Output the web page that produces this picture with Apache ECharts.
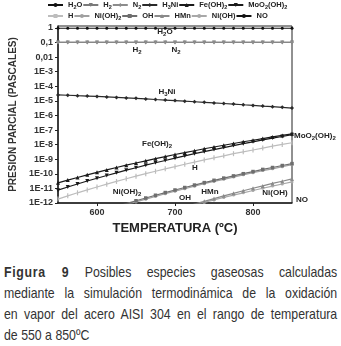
<!DOCTYPE html>
<html>
<head>
<meta charset="utf-8">
<script src="https://cdn.jsdelivr.net/npm/echarts@6/dist/echarts.min.js"></script>
<style>
  html, body { margin: 0; padding: 0; background: #fff; overflow: hidden; }
  #chart { width: 341px; height: 262px; }
  #caption { position: absolute; left: 4px; top: 262px; color: #333;
    font-family: 'Liberation Sans', Arial, sans-serif; font-size: 14.5px; }
  #caption div { width: 392px; height: 21px; line-height: 21px; text-align: justify; text-align-last: justify;
    white-space: nowrap; transform: scale(0.85, 1); transform-origin: left top; }
  #caption div.last { text-align-last: left; }
  #caption b { letter-spacing: 0.8px; }
</style>
</head>
<body>
<div id="chart"></div>
<div id="caption">
  <div><b>Figura 9</b> Posibles especies gaseosas calculadas</div>
  <div>mediante la simulación termodinámica de la oxidación</div>
  <div>en vapor del acero AISI 304 en el rango de temperatura</div>
  <div class="last">de 550 a 850ºC</div>
</div>
<script>
// temperatura (ºC)
const temps = [550, 562.5, 575, 587.5, 600, 612.5, 625, 637.5, 650, 662.5, 675, 687.5, 700,
  712.5, 725, 737.5, 750, 762.5, 775, 787.5, 800, 812.5, 825, 837.5, 850]

// presion parcial (Pa)
const pH2O = [0.95, 0.95, 0.95, 0.95, 0.95, 0.95, 0.95, 0.95, 0.95, 0.95, 0.95, 0.95, 0.95,
  0.95, 0.95, 0.95, 0.95, 0.95, 0.95, 0.95, 0.95, 0.95, 0.95, 0.95, 0.95]
const pH2 = [0.1, 0.1, 0.1, 0.1, 0.1, 0.1, 0.1, 0.1, 0.1, 0.1, 0.1, 0.1, 0.1,
  0.1, 0.1, 0.1, 0.1, 0.1, 0.1, 0.1, 0.1, 0.1, 0.1, 0.1, 0.1]
const pN2 = [0.105, 0.105, 0.105, 0.105, 0.105, 0.105, 0.105, 0.105, 0.105, 0.105, 0.105, 0.105, 0.105,
  0.105, 0.105, 0.105, 0.105, 0.105, 0.105, 0.105, 0.105, 0.105, 0.105, 0.105, 0.105]
const pH3Ni = [2.57e-5, 2.42e-5, 2.26e-5, 2.13e-5, 2.0e-5, 1.86e-5, 1.72e-5, 1.6e-5, 1.48e-5, 1.36e-5, 1.24e-5, 1.14e-5, 1.05e-5,
  9.5e-6, 8.7e-6, 7.9e-6, 7.2e-6, 6.6e-6, 6.0e-6, 5.4e-6, 4.9e-6, 4.4e-6, 4.0e-6, 3.6e-6, 3.2e-6]
const pFeOH2 = [2.4e-11, 3.7e-11, 5.6e-11, 8.5e-11, 1.26e-10, 1.85e-10, 2.7e-10, 3.9e-10, 5.5e-10, 7.8e-10, 1.09e-9, 1.51e-9, 2.1e-9,
  2.8e-9, 3.8e-9, 5.2e-9, 6.9e-9, 9.1e-9, 1.2e-8, 1.57e-8, 2.0e-8, 2.6e-8, 3.4e-8, 4.3e-8, 5.5e-8]
const pMoO2OH2 = [7.6e-12, 1.24e-11, 2.0e-11, 3.2e-11, 5.0e-11, 7.7e-11, 1.17e-10, 1.77e-10, 2.6e-10, 3.9e-10, 5.7e-10, 8.2e-10, 1.18e-9,
  1.68e-9, 2.4e-9, 3.3e-9, 4.6e-9, 6.3e-9, 8.6e-9, 1.16e-8, 1.56e-8, 2.1e-8, 2.8e-8, 3.6e-8, 4.8e-8]
const pH = [1.86e-12, 3.1e-12, 5.0e-12, 7.9e-12, 1.25e-11, 1.95e-11, 3.0e-11, 4.6e-11, 6.9e-11, 1.02e-10, 1.5e-10, 2.2e-10, 3.1e-10,
  4.5e-10, 6.4e-10, 9.0e-10, 1.25e-9, 1.72e-9, 2.4e-9, 3.2e-9, 4.3e-9, 5.8e-9, 7.8e-9, 1.03e-8, 1.35e-8]
const pNiOH2 = [2.2e-14, 3.8e-14, 6.5e-14, 1.08e-13, 1.8e-13, 3.0e-13, 4.7e-13, 7.6e-13, 1.19e-12, 1.83e-12, 2.8e-12, 4.3e-12, 6.5e-12,
  9.5e-12, 1.41e-11, 2.1e-11, 3.0e-11, 4.2e-11, 6.0e-11, 8.5e-11, 1.19e-10, 1.66e-10, 2.2e-10, 3.1e-10, 4.2e-10]
const pOH = [2.6e-14, 4.6e-14, 7.8e-14, 1.3e-13, 2.2e-13, 3.6e-13, 5.7e-13, 9.1e-13, 1.43e-12, 2.2e-12, 3.4e-12, 5.2e-12, 7.8e-12,
  1.15e-11, 1.7e-11, 2.5e-11, 3.6e-11, 5.1e-11, 7.2e-11, 1.02e-10, 1.43e-10, 2.0e-10, 2.7e-10, 3.7e-10, 5.0e-10]
const pHMn = [4.2e-16, 8.0e-16, 1.5e-15, 2.8e-15, 5.0e-15, 8.9e-15, 1.6e-14, 2.7e-14, 4.6e-14, 7.7e-14, 1.3e-13, 2.1e-13, 3.3e-13,
  5.3e-13, 8.4e-13, 1.3e-12, 2.0e-12, 3.1e-12, 4.6e-12, 6.9e-12, 1.02e-11, 1.49e-11, 2.2e-11, 3.1e-11, 4.5e-11]
const pNiOH = [6.7e-16, 1.21e-15, 2.2e-15, 3.8e-15, 6.5e-15, 1.11e-14, 1.86e-14, 3.1e-14, 5.0e-14, 8.1e-14, 1.28e-13, 2.0e-13, 3.1e-13,
  4.8e-13, 7.2e-13, 1.09e-12, 1.62e-12, 2.4e-12, 3.5e-12, 5.0e-12, 7.2e-12, 1.03e-11, 1.45e-11, 2.0e-11, 2.8e-11]
const pNO = [1.0e-17, 1.8e-17, 3.3e-17, 5.8e-17, 1.02e-16, 1.75e-16, 3.0e-16, 4.9e-16, 8.1e-16, 1.31e-15, 2.1e-15, 3.3e-15, 5.2e-15,
  8.0e-15, 1.22e-14, 1.85e-14, 2.8e-14, 4.1e-14, 6.0e-14, 8.8e-14, 1.27e-13, 1.82e-13, 2.6e-13, 3.6e-13, 5.1e-13]

const xTicks = [600, 700, 800]
const yTicks = [1e-12, 1e-11, 1e-10, 1e-9, 1e-8, 1e-7, 1e-6, 1e-5, 1e-4, 1e-3, 0.01, 0.1, 1]

const legendRow1 = ['H2O', 'H2', 'N2', 'H3Ni', 'Fe(OH)2', 'MoO2(OH)2']
const legendRow2 = ['H', 'Ni(OH)2', 'OH', 'HMn', 'Ni(OH)', 'NO']

// nombre -> texto con subindices
const richNames = {
  'H2O': '{b|H}{s|2}{b|O}',
  'H2': '{b|H}{s|2}',
  'N2': '{b|N}{s|2}',
  'H3Ni': '{b|H}{s|3}{b|Ni}',
  'Fe(OH)2': '{b|Fe(OH)}{s|2}',
  'MoO2(OH)2': '{b|MoO}{s|2}{b|(OH)}{s|2}',
  'H': '{b|H}',
  'Ni(OH)2': '{b|Ni(OH)}{s|2}',
  'OH': '{b|OH}',
  'HMn': '{b|HMn}',
  'Ni(OH)': '{b|Ni(OH)}',
  'NO': '{b|NO}'
}

const rich = {
  b: { fontSize: 8, fontWeight: 'bold', color: '#222', fill: '#222', fontFamily: 'Liberation Sans', lineHeight: 11 },
  s: { fontSize: 6, fontWeight: 'bold', color: '#222', fill: '#222', fontFamily: 'Liberation Sans', lineHeight: 6, verticalAlign: 'bottom' }
}
const richLegend = {
  b: { fontSize: 7.5, fontWeight: 'bold', color: '#222', fontFamily: 'Liberation Sans', lineHeight: 11 },
  s: { fontSize: 5.5, fontWeight: 'bold', color: '#222', fontFamily: 'Liberation Sans', lineHeight: 6, verticalAlign: 'bottom' }
}

// [name, data, color, symbol, size, rotate]
const defs = [
  ['NO', pNO, '#111', 'none', 0, 0],
  ['H', pH, '#bdbdbd', 'rect', [1.2, 5], 0],
  ['Ni(OH)', pNiOH, '#a8a8a8', 'circle', 3, 0],
  ['HMn', pHMn, '#8a8a8a', 'triangle', 4, 0],
  ['Ni(OH)2', pNiOH2, '#a0a0a0', 'circle', 3, 0],
  ['OH', pOH, '#6e6e6e', 'rect', 3.5, 0],
  ['H2', pH2, '#7a7a7a', 'triangle', 4, 180],
  ['N2', pN2, '#8c8c8c', 'diamond', 4, 0],
  ['H3Ni', pH3Ni, '#2a2a2a', 'diamond', 4, 0],
  ['MoO2(OH)2', pMoO2OH2, '#1a1a1a', 'triangle', 4, 180],
  ['Fe(OH)2', pFeOH2, '#1a1a1a', 'triangle', 4, 0],
  ['H2O', pH2O, '#111', 'circle', 3, 0]
]

const series = defs.map(d => ({
  name: d[0],
  type: 'line',
  data: temps.map((t, i) => [t, d[1][i]]),
  symbol: d[3],
  symbolSize: d[4],
  symbolRotate: d[5],
  showSymbol: d[3] !== 'none',
  clip: true,
  itemStyle: { color: d[2] },
  lineStyle: { color: d[2], width: 1.2 },
  emphasis: { disabled: true }
}))

// etiquetas dentro del grafico
const notes = [
  ['H2O', 165, 32, 'center'],
  ['H2', 137, 50, 'center'],
  ['N2', 176, 50, 'center'],
  ['H3Ni', 167, 92, 'center'],
  ['Fe(OH)2', 157, 144, 'center'],
  ['MoO2(OH)2', 294, 136, 'left'],
  ['H', 195, 168, 'center'],
  ['Ni(OH)2', 127, 192, 'center'],
  ['OH', 185, 198, 'center'],
  ['HMn', 210, 192, 'center'],
  ['Ni(OH)', 275, 193, 'center'],
  ['NO', 302, 200, 'center']
]

const legendBase = {
  left: 47,
  itemWidth: 15,
  itemHeight: 5,
  itemGap: 0,
  padding: 0,
  formatter: n => richNames[n],
  textStyle: { rich: richLegend }
}

const chart = echarts.init(document.getElementById('chart'))
chart.setOption({
  animation: false,
  textStyle: { fontFamily: 'Liberation Sans' },
  legend: [
    Object.assign({ data: legendRow1, top: 1 }, legendBase),
    Object.assign({ data: legendRow2, top: 12 }, legendBase)
  ],
  grid: {
    left: 53, right: 49, top: 26, bottom: 59,
    show: true, borderColor: '#222', borderWidth: 1
  },
  xAxis: {
    type: 'value',
    min: 550,
    max: 850,
    name: 'TEMPERATURA (ºC)',
    nameLocation: 'middle',
    nameGap: 18,
    nameTextStyle: { fontSize: 13, fontWeight: 'bold', color: '#222' },
    axisLine: { lineStyle: { color: '#222', width: 1.5 } },
    axisTick: { customValues: xTicks, length: 3, lineStyle: { color: '#222' } },
    axisLabel: { customValues: xTicks, fontSize: 9, fontWeight: 'bold', color: '#333', margin: 5 },
    splitLine: { show: false }
  },
  yAxis: {
    type: 'log',
    logBase: 10,
    min: 1e-12,
    max: 1.35,
    name: 'PRESION PARCIAL (PASCALES)',
    nameLocation: 'middle',
    nameGap: 40,
    nameTextStyle: { fontSize: 10, fontWeight: 'bold', color: '#333' },
    axisLine: { show: true, lineStyle: { color: '#222', width: 1.5 } },
    axisTick: { show: true, customValues: yTicks, length: 3, lineStyle: { color: '#222' } },
    axisLabel: {
      customValues: yTicks,
      fontSize: 9, fontWeight: 'bold', color: '#333', margin: 5,
      formatter: v => {
        if (v >= 0.5) return '1'
        if (v >= 0.05) return '0,1'
        if (v >= 0.005) return '0,01'
        return '1E-' + Math.round(-Math.log10(v))
      }
    },
    splitLine: { show: false }
  },
  graphic: notes.map(n => ({
    type: 'text',
    x: n[1],
    y: n[2],
    z: 100,
    style: { text: richNames[n[0]], rich: rich, align: n[3], verticalAlign: 'middle' }
  })),
  series: series
})
</script>
</body>
</html>
